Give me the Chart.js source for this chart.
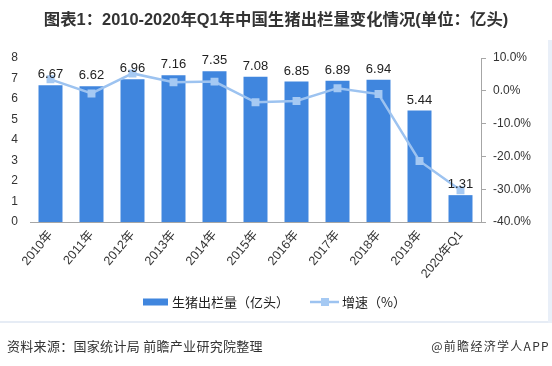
<!DOCTYPE html>
<html>
<head>
<meta charset="utf-8">
<script src="https://cdn.jsdelivr.net/npm/chart.js@4"></script>
<style>
  html,body{margin:0;padding:0;background:#fff;}
  #wrap{position:relative;width:552px;height:366px;overflow:hidden;background:#fff;font-family:"Liberation Sans","Noto Sans CJK SC",sans-serif;}
  #title{position:absolute;left:0;top:6px;width:552px;text-align:center;font-weight:bold;font-size:16.4px;color:#333;font-family:"Liberation Sans","Noto Sans CJK SC",sans-serif;white-space:nowrap;}
  #sep{position:absolute;left:0;top:321px;width:552px;height:2px;background:#e6ecf5;}
  #rb{position:absolute;left:548px;top:40px;width:4px;height:283px;background:#e9eff8;}
  #src{position:absolute;left:7px;top:336px;font-size:13px;letter-spacing:0.3px;color:#333;font-family:"Noto Sans CJK SC",sans-serif;white-space:nowrap;}
  #app{position:absolute;right:2px;top:337px;font-size:12px;color:#333;letter-spacing:1.3px;font-family:"Noto Sans CJK SC",sans-serif;white-space:nowrap;}
  canvas{position:absolute;left:0;top:0;}
</style>
</head>
<body>
<div id="wrap">
  <div id="sep"></div>
  <div id="rb"></div>
  <canvas id="c" width="552" height="366"></canvas>
  <div id="title">图表1：2010-2020年Q1年中国生猪出栏量变化情况(单位：亿头)</div>
  <div id="src">资料来源：国家统计局 前瞻产业研究院整理</div>
  <div id="app">@前瞻经济学人APP</div>
</div>
<script>
const categories = ["2010年","2011年","2012年","2013年","2014年","2015年","2016年","2017年","2018年","2019年","2020年Q1"];
const slaughter = [6.67, 6.62, 6.96, 7.16, 7.35, 7.08, 6.85, 6.89, 6.94, 5.44, 1.31];
const growth = [3.5, -0.8, 5.3, 2.6, 2.8, -3.5, -3.1, 0.8, -1.0, -21.4, -30.3];
const leftTicks = [0, 8, 1];
const rightTicks = [-40, 10, 10];
const seriesNames = ["生猪出栏量（亿头）", "增速（%）"];

const BAR = '#4086de';
const LINE = '#9dc3f0';
const MARK = '#a5c9f3';
Chart.defaults.font.family = '"Liberation Sans","Noto Sans CJK SC",sans-serif';
Chart.defaults.color = '#333';

const labelsPlugin = {
  id: 'barLabels',
  afterDatasetsDraw(chart) {
    const ctx = chart.ctx;
    const meta = chart.getDatasetMeta(0);
    ctx.save();
    ctx.font = '13px "Liberation Sans","Noto Sans CJK SC",sans-serif';
    ctx.fillStyle = '#222';
    ctx.textAlign = 'center';
    ctx.textBaseline = 'bottom';
    meta.data.forEach((bar, i) => {
      ctx.fillText(slaughter[i].toFixed(2), bar.x, bar.y - 4);
    });
    ctx.restore();
  }
};

const legendPlugin = {
  id: 'customLegend',
  afterDraw(chart) {
    const ctx = chart.ctx;
    const y = 302;
    ctx.save();
    ctx.fillStyle = BAR;
    ctx.fillRect(143, y - 3.5, 25, 7);
    ctx.font = '13px "Noto Sans CJK SC",sans-serif';
    ctx.fillStyle = '#222';
    ctx.textBaseline = 'middle';
    ctx.textAlign = 'left';
    ctx.fillText(seriesNames[0], 172, y);
    ctx.strokeStyle = LINE;
    ctx.lineWidth = 2.5;
    ctx.beginPath();
    ctx.moveTo(310, y);
    ctx.lineTo(339, y);
    ctx.stroke();
    ctx.fillStyle = MARK;
    ctx.fillRect(321, y - 4, 8, 8);
    ctx.fillStyle = '#222';
    ctx.fillText(seriesNames[1], 342, y);
    ctx.restore();
  }
};

new Chart(document.getElementById('c'), {
  type: 'bar',
  data: {
    labels: categories,
    datasets: [
      {
        type: 'bar',
        label: seriesNames[0],
        data: slaughter,
        backgroundColor: BAR,
        yAxisID: 'y',
        categoryPercentage: 1,
        barPercentage: 0.585,
        order: 1
      },
      {
        type: 'line',
        label: seriesNames[1],
        data: growth,
        borderColor: LINE,
        borderWidth: 2.5,
        backgroundColor: MARK,
        pointStyle: 'rect',
        pointRadius: 5.6,
        pointBorderWidth: 0,
        pointBackgroundColor: MARK,
        tension: 0,
        yAxisID: 'y1',
        order: 0
      }
    ]
  },
  options: {
    responsive: false,
    animation: false,
    layout: { padding: { top: 58, bottom: 86, left: 0, right: 0 } },
    plugins: {
      legend: { display: false },
      tooltip: { enabled: false },
      title: { display: false }
    },
    scales: {
      x: {
        grid: { display: false, drawTicks: false },
        border: { display: true, color: '#a6a6a6', width: 1 },
        ticks: { maxRotation: 50, minRotation: 50, autoSkip: false, padding: 6, font: { size: 12.5 }, color: '#333' },
        afterFit(s) { s.height = 58; }
      },
      y: {
        position: 'left',
        min: leftTicks[0], max: leftTicks[1],
        ticks: { stepSize: leftTicks[2], padding: 12, font: { size: 12 }, color: '#333' },
        grid: { display: false, drawTicks: false },
        border: { display: false },
        afterFit(s) { s.width = 30; }
      },
      y1: {
        position: 'right',
        min: rightTicks[0], max: rightTicks[1],
        ticks: { stepSize: rightTicks[2], padding: 7, font: { size: 12 }, color: '#333',
          callback: v => Number(v).toFixed(1) + '%' },
        grid: { display: true, drawOnChartArea: false, drawTicks: true, tickLength: 5, color: '#a6a6a6' },
        border: { display: true, color: '#a6a6a6' },
        afterFit(s) { s.width = 71; }
      }
    }
  },
  plugins: [labelsPlugin, legendPlugin]
});
</script>
</body>
</html>
